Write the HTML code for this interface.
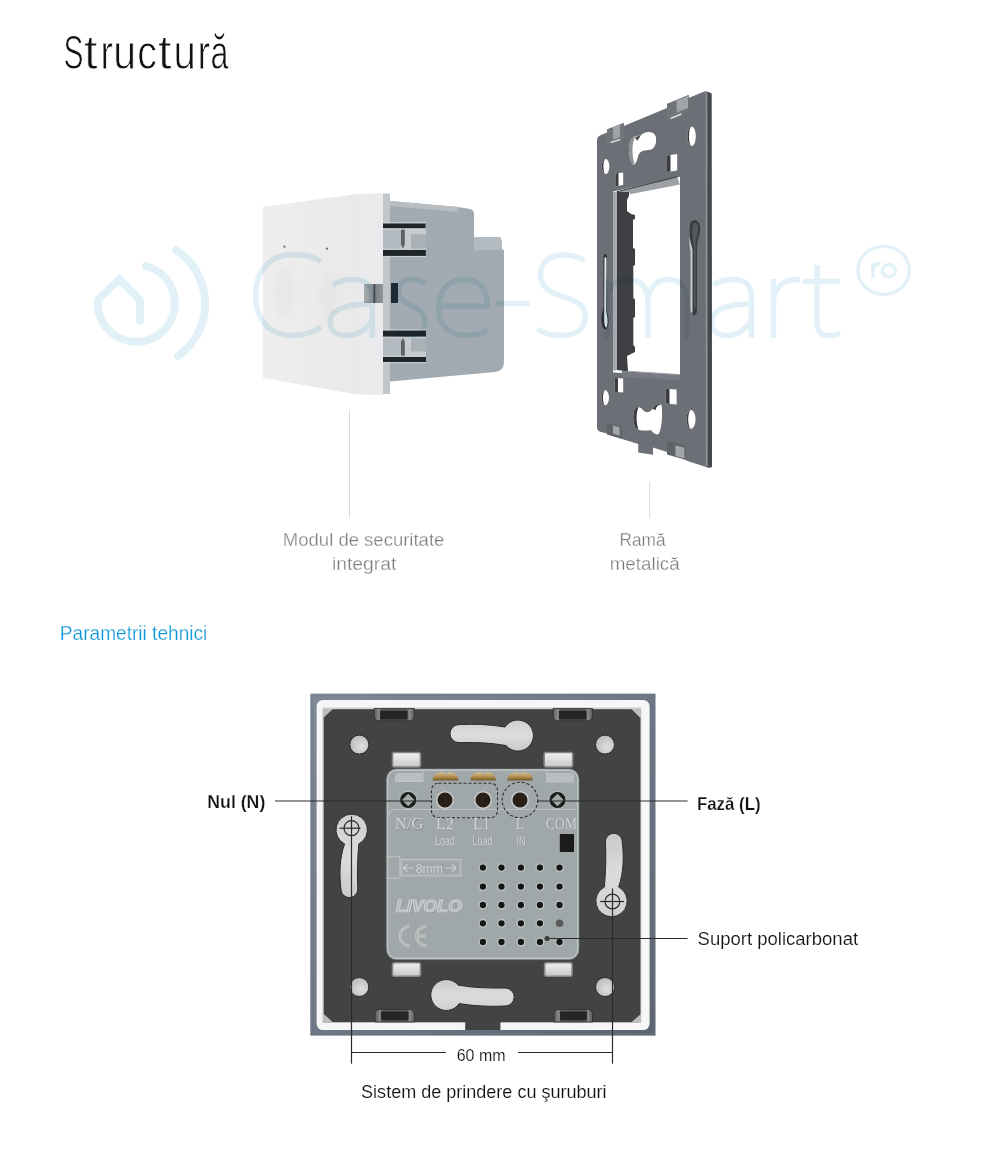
<!DOCTYPE html>
<html><head><meta charset="utf-8">
<style>
html,body{margin:0;padding:0;background:#fff;}
body{width:1000px;height:1172px;position:relative;overflow:hidden;font-family:"Liberation Sans",sans-serif;}
svg{position:absolute;left:0;top:0;}
#wm{mix-blend-mode:multiply;}
</style></head><body>

<!-- base graphics layer -->
<svg id="g1" width="1000" height="1172" viewBox="0 0 1000 1172">
  <defs>
    <linearGradient id="frontG" x1="0" y1="0" x2="1" y2="0">
      <stop offset="0" stop-color="#eeeeee"/><stop offset="1" stop-color="#e9e9e9"/>
    </linearGradient>
    <filter id="soft" x="-50%" y="-50%" width="200%" height="200%"><feGaussianBlur stdDeviation="3"/></filter>
    <linearGradient id="blkG" x1="0" y1="0" x2="1" y2="0">
      <stop offset="0" stop-color="#a3a9ad"/><stop offset="0.45" stop-color="#8e9498"/><stop offset="0.55" stop-color="#3f4449"/><stop offset="0.62" stop-color="#7d8388"/><stop offset="1" stop-color="#8f9599"/>
    </linearGradient>
    <linearGradient id="bodyG" x1="0" y1="0" x2="1" y2="0">
      <stop offset="0" stop-color="#a2abb2"/><stop offset="1" stop-color="#a1aab1"/>
    </linearGradient>
  </defs>
  <!-- title -->
  <g font-size="46.5" fill="#111" stroke="#fff" stroke-width="0.9" style="paint-order:fill stroke" transform="translate(0,68.9) scale(1,1.05) translate(0,-68.2)">
<text transform="translate(63.55,68.2) scale(0.645,1)">S</text>
<text transform="translate(84.01,68.2) scale(1.052,1)">t</text>
<text transform="translate(100.40,68.2) scale(0.800,1)">r</text>
<text transform="translate(113.15,68.2) scale(0.882,1)">u</text>
<text transform="translate(137.31,68.2) scale(0.846,1)">c</text>
<text transform="translate(158.11,68.2) scale(1.052,1)">t</text>
<text transform="translate(173.62,68.2) scale(0.862,1)">u</text>
<text transform="translate(197.45,68.2) scale(0.817,1)">r</text>
<text transform="translate(210.51,68.2) scale(0.694,1)">ă</text>
</g>

  <!-- ===== MODULE (top) ===== -->
  <!-- grey body -->
  <path d="M390,201 L458,207 L470,209 Q474,210 474,214 L474,237 L499,237 Q501,237 501.5,241 L502,249.5 L504,250 L504,362 Q504,371 495,372 L390,381.5 Z" fill="url(#bodyG)"/>
  <path d="M474,237 L499,237 Q501,237 501.5,241 L502,249.5 L474,250.5 Z" fill="#b3bbc1"/>
  <path d="M390,201 L458,207 L458,212 L390,206 Z" fill="#b8bdc1"/>
  <rect x="383" y="193.5" width="7" height="200.5" fill="#c0c6ca"/>
  <!-- slots -->
  <rect x="383" y="223.5" width="42.5" height="5" fill="#1e262c"/>
  <rect x="383" y="249.7" width="42.8" height="6.2" fill="#1e262c"/>
  <rect x="383" y="330.5" width="43" height="6" fill="#1e262c"/>
  <rect x="383" y="356.7" width="43" height="5.3" fill="#1e262c"/>
  <rect x="383" y="228.5" width="43" height="21.2" fill="#c4cacd"/>
  <rect x="411" y="234.3" width="15" height="15.4" fill="#a9b1b7"/>
  <rect x="383" y="228.5" width="18" height="21.2" fill="#b2babf"/>
  <path d="M401,229 L404.8,229 L404.8,244 L403,249 L401,244 Z" fill="#5d6166"/>
  <path d="M383,222.6 L426,222.6 M383,229.2 L426,229.2 M383,249.1 L426,249.1 M383,256.6 L426,256.6" stroke="#d2d7da" stroke-width="0.9"/>
  <rect x="383" y="337" width="43" height="19.7" fill="#c4cacd"/>
  <rect x="411" y="337" width="15" height="14.5" fill="#a9b1b7"/>
  <rect x="383" y="337" width="18" height="19.7" fill="#b2babf"/>
  <path d="M401,356.2 L404.8,356.2 L404.8,342 L403,337.5 L401,342 Z" fill="#5d6166"/>
  <path d="M383,329.8 L426,329.8 M383,337.6 L426,337.6 M383,356.1 L426,356.1 M383,362.7 L426,362.7" stroke="#d2d7da" stroke-width="0.9"/>
  <rect x="391" y="283" width="7" height="20" fill="#1c2a33"/>
  <!-- side strip -->
  <path d="M357,194 L381,193.3 Q383,193.3 383,195.5 L383,395 L357,394.5 Z" fill="#eaeaec"/>
  <!-- front face -->
  <path d="M262.7,207 L357,194 L357,394.5 L262.7,378 Z" fill="url(#frontG)"/>
  <g filter="url(#soft)" fill="#dedee0" opacity="0.35">
    <ellipse cx="284" cy="293" rx="10.5" ry="26"/>
    <ellipse cx="328.5" cy="295" rx="9" ry="24"/>
  </g>
  <rect x="364" y="284" width="19" height="19" fill="url(#blkG)"/>
  <circle cx="284.4" cy="246.7" r="1.1" fill="#6a6a6a"/>
  <circle cx="327" cy="248.7" r="1.1" fill="#6a6a6a"/>

  <!-- label lines -->
  <rect x="349" y="409.5" width="1" height="108" fill="#d9d9d9"/>
  <rect x="649.2" y="482.6" width="1" height="35" fill="#d9d9d9"/>
</svg>

<!-- frame layer -->
<svg id="g2" width="1000" height="1172" viewBox="0 0 1000 1172">
  <!-- outer plate -->
  <path d="M597,140 Q597,136.5 601,135 L607,132.5 L607,129.5 L623.8,123 L623.8,126 L667,108 L667,104 L688.6,95 L688.6,98 L703,92 Q706,90.5 708,92 L711.5,93.5 L712,466 Q711.5,469 707.5,467.5 L686,460.5 L686,456 L667,450 L667,452 L653,447.6 L653,454.8 L638.2,452.4 L638.2,444 L622,439 L622,435.6 L607,431 L607,433.5 L601,432 Q597,431 597,427 Z" fill="#6c6f76"/>
  <path d="M706.5,91.5 L711.5,93.5 L712,467 L707.5,466.5 Z" fill="#46484c"/>
  <path d="M705.6,92 L707.4,91.6 L707.6,466 L705.8,465.5 Z" fill="#8e9196"/>
  <!-- tabs top -->
  <path d="M607,129.5 L623.8,123 L623.8,139 L607,145 Z" fill="#717479"/>
  <path d="M613,127 L620,124.5 L620,137 L613,139.5 Z" fill="#a0a3a8"/>
  <path d="M610.6,142.5 L620.2,139.5" stroke="#d8dadc" stroke-width="1.6"/>
  <path d="M667,104 L688.6,95 L688.6,111 L667,119.5 Z" fill="#717479"/>
  <path d="M676.6,100.5 L688,96 L688,108 L676.6,112.5 Z" fill="#a0a3a8"/>
  <path d="M670.6,118.5 L681.4,114" stroke="#d8dadc" stroke-width="1.6"/>
  <!-- tabs bottom -->
  <path d="M607,422.4 L622,426.5 L622,439 L607,434.5 Z" fill="#5f6267"/>
  <path d="M613,425.4 L619.6,427.2 L619.6,435.5 L613,433.8 Z" fill="#a2a5a9"/>
  <path d="M667,440.4 L685.6,445.5 L686,460 L667,454.5 Z" fill="#5f6267"/>
  <path d="M675.4,445.2 L684.4,447.8 L684.4,458.5 L675.4,456 Z" fill="#a2a5a9"/>
  <!-- window -->
  <path d="M613,191.5 L680,176.8 L680,376 L613,372.5 Z" fill="#fff"/>
  <path d="M613,192 L617,191.5 L617,369.5 C616,371 614,371 613,370 Z" fill="#a6a9ae"/>
  <path d="M617,191.5 L629,192 L629,196 L627,200 L627,211 L631,214 L635,215 L635,219 L633,220 L633,248 L635,249 L635,265 L633.3,266 L633.3,298 L635,299.5 L635,317 L633.3,318 L633.3,345 L635,347 L635,352 L631,354 L627,356 L628,371.5 L617,370 Z" fill="#3d3f43"/>
  <path d="M617,191.5 L677,176.6 L679.8,184.4 L630,194.2 L629,192 Z" fill="#9da0a5"/>
  <path d="M617,191.8 L677.5,176.8" stroke="#3a3c40" stroke-width="1.1"/>
  <path d="M628,371.3 L680,374.6 L680,380.5 L622,377.2 L622,371 Z" fill="#777a80"/>
  <path d="M628,371.3 L680,374.6" stroke="#a0a3a8" stroke-width="1"/>
  <!-- holes -->
  <g fill="#fff">
    <path d="M633,165 C628.5,158 627.5,146 631.5,139 C634,135.5 638,136.5 641,135 C645.5,131 653.5,130.5 655.8,136.5 C657,142.5 655,149 650,149.8 C645,150.3 640.5,150.5 638.5,155 C637,160 636.5,164 633,165 Z"/>
    <path d="M661.6,405 C662.5,412 662.5,426 659,433.5 C656.5,436 653,433 651,430 C646,431 640,431 636,428.5 C632.5,424 632.5,413 635,409 C637.5,406 641,407 643,410 C646,413.5 650,412.5 652.5,409 C655,405 658.5,402 661.6,405 Z"/>
    <ellipse cx="691.6" cy="136.3" rx="4.2" ry="9.9"/>
    <ellipse cx="605.6" cy="166.6" rx="3.8" ry="7.6"/>
    <ellipse cx="605.2" cy="397.8" rx="3.8" ry="7.5"/>
    <ellipse cx="691" cy="419.4" rx="4.5" ry="9.5"/>
    <path d="M615.4,173.6 L623.2,172.4 L623.2,185 L615.4,186.2 Z"/>
    <path d="M667,155.6 L677.2,154 L677.2,170.4 L667,172 Z"/>
    <path d="M614.8,378 L623.2,378.6 L623.2,392.4 L614.8,391.8 Z"/>
    <path d="M665.8,388.8 L676.6,389.6 L676.6,404.4 L665.8,403.6 Z"/>
  </g>
  <!-- hole depth shading -->
  <g fill="#3a3c40">
    <path d="M615.4,173.6 L618.5,173.1 L618.5,185.7 L615.4,186.2 Z"/>
    <path d="M667,155.6 L670.5,155.1 L670.5,171.5 L667,172 Z"/>
    <path d="M614.8,378 L618,378.2 L618,392 L614.8,391.8 Z"/>
    <path d="M665.8,388.8 L669.5,389 L669.5,404 L665.8,403.6 Z"/>
    <path d="M687.4,136.3 A4.2,9.9 0 0 1 691.6,126.4 A2.6,9.9 0 0 0 691.6,146.2 A4.2,9.9 0 0 1 687.4,136.3 Z"/>
    <path d="M601.8,166.6 A3.8,7.6 0 0 1 605.6,159 A2.2,7.6 0 0 0 605.6,174.2 A3.8,7.6 0 0 1 601.8,166.6 Z"/>
    <path d="M601.4,397.8 A3.8,7.5 0 0 1 605.2,390.3 A2.2,7.5 0 0 0 605.2,405.3 A3.8,7.5 0 0 1 601.4,397.8 Z"/>
    <path d="M686.5,419.4 A4.5,9.5 0 0 1 691,409.9 A2.8,9.5 0 0 0 691,428.9 A4.5,9.5 0 0 1 686.5,419.4 Z"/>
  </g>
  <!-- keyhole rims -->
  <path d="M633,165 C628.5,158 627.5,146 631.5,139 C632.5,137.5 634,137 635,137 C632,143 631.5,155 634.5,163.5 Z" fill="#8c8f94"/>
  <path d="M635,137 C637,136.5 639,136 641,135 C640,137 638.5,139 637,141 Z" fill="#4a4c50"/>
  <path d="M636,428.5 C632.5,424 632.5,413 635,409 C636,407.5 637.5,407 638.5,407.5 C636,412 636,423 638.5,429.5 Z" fill="#3c3e42"/>
  <path d="M652.5,409 C655,405 658.5,402 661.6,405 C659,404 656.5,406 655.5,410 Z" fill="#3c3e42"/>
  <!-- side slots -->
  <path d="M603.5,256 C605,253 607,253 607,258 L607,312 C609,318 609,326 606.5,329 C604,330 602,327 601.5,321 C601,315 603,311 603.5,306 Z" fill="#2a2c30"/>
  <path d="M604.5,258 C605.5,256 606.5,257 606.5,260 L606.2,312 C608,318 608,325 606.5,327.5 C605,328 604.2,324 604.2,318 Z" fill="#e9ecee"/>
  <path d="M690,225 C690,219 699,218 700,226 C701,235 697,240 697,246 L697,310 C697,316 693,318 692,312 L692,250 C690,244 689,235 690,225 Z" fill="#3a3c41"/>
  <path d="M692.5,226 C693,222 697.5,222 698,227 C698.5,233 696,238 695.5,244 L695.5,308 L694,308 L694,246 C692.5,240 692,232 692.5,226 Z" fill="#55585d"/>
  <path d="M689.5,236 C689.5,240 691.5,244 692.5,250 L692.5,312 C691,314 690.5,312 690.5,308 L690.5,252 C689.5,246 689,240 689.5,236 Z" fill="#c8cbce"/>
</svg>
<!-- watermark (multiply) -->
<svg id="wm" width="1000" height="1172" viewBox="0 0 1000 1172">
  <g fill="none" stroke="#e2f1f7" stroke-width="8" stroke-linecap="round" stroke-linejoin="round">
    <path d="M140,321 L140,300 L119.4,279 L98,300 A38.5,38.5 0 1 0 146,266"/>
    <path d="M176,250 A64,64 0 0 1 178,356"/>
  </g>
  <g fill="none" stroke="#e2f1f7">
  <ellipse cx="883.6" cy="270.3" rx="25.7" ry="24" stroke-width="3.3"/>
  <ellipse cx="888.8" cy="270.7" rx="6.5" ry="6" stroke-width="3.4"/>
  <path d="M873,263 L873,277.7 M873,268.5 C874,265.5 876.5,263.6 880.5,263.6" stroke-width="3.6"/>
</g>
  
  <g fill="none" stroke="#e2f1f7" stroke-width="5.4" stroke-linecap="butt">
<path d="M321,261.5 C313,256 303,254.5 293,254.5 C268,254.5 255.5,273 255.5,295.5 C255.5,319 269,335.5 292,335.5 C304,335.5 313,332.5 321,327"/>
<path d="M372.5,338 L372.5,298 C372.5,284 365,279.5 353,279.5 C345,279.5 338,281.5 333,285"/>
<path d="M372.5,304 C356,304 330,305.5 330,322 C330,331 337,335.5 347,335.5 C358,335.5 367,329 372.5,320"/>
<path d="M425.5,283.5 C420,280.5 415,279.5 411,279.5 C403,279.5 398.5,284 398.5,291 C398.5,308 425,303 425,322 C425,331 419,335.5 410,335.5 C405,335.5 400,334 396.5,331.5"/>
<path d="M438.5,306 L487.5,306 C488,290 480,279.5 464,279.5 C448,279.5 438.5,292 438.5,308 C438.5,325 449,335.5 466,335.5 C475,335.5 482,333.5 487.5,330"/>
<path d="M496,303.5 L530,303.5"/>
<path d="M584.5,260.5 C578,256.5 571,255 563,255 C549,255 540.5,263 540.5,275 C540.5,302 585.5,292 585.5,316 C585.5,329 576,335.5 561,335.5 C551,335.5 543,333 537.5,329"/>
<path d="M607,279 L607,338 M607,295 C610,285 617,279.5 627,279.5 C641,279.5 648,287 648,302 L648,338 M648,298 C651,286 658,279.5 668,279.5 C682,279.5 687,288 687,303 L687,338"/>
<path d="M751.5,338 L751.5,298 C751.5,284 745,279.5 733,279.5 C725,279.5 718,281.5 713.5,285"/>
<path d="M751.5,304 C737,304 711.5,305.5 711.5,322 C711.5,331 718,335.5 727,335.5 C738,335.5 746,329 751.5,320"/>
<path d="M773.5,279 L773.5,338 M773.5,297 C777,286 785,279.5 795,279.5 L800,280"/>
<path d="M817,265 L817,322 C817,332 821,335.5 829,335.5 C833,335.5 836.5,334.5 840,333.5 M803,281.5 L840,281.5"/>
</g>
</svg>

<!-- text labels -->
<svg id="g3" width="1000" height="1172" viewBox="0 0 1000 1172" font-family="Liberation Sans, sans-serif">
  <g fill="#7a7a7a" font-size="18" text-anchor="middle" stroke="#fff" stroke-width="0.3" style="paint-order:fill stroke">
    <text x="363.6" y="546.3" textLength="161.5" lengthAdjust="spacingAndGlyphs">Modul de securitate</text>
    <text x="364.2" y="569.6" textLength="64.5" lengthAdjust="spacingAndGlyphs">integrat</text>
    <text x="642.5" y="545.7" textLength="46" lengthAdjust="spacingAndGlyphs">Ramă</text>
    <text x="644.7" y="569.5" textLength="70" lengthAdjust="spacingAndGlyphs">metalică</text>
  </g>
  <text x="59.8" y="639.8" font-size="19.5" fill="#0a95d9" stroke="#fff" stroke-width="0.25" style="paint-order:fill stroke" textLength="147.5" lengthAdjust="spacingAndGlyphs">Parametrii tehnici</text>
</svg>

<!-- ===== BOTTOM SWITCH ===== -->
<svg id="g4" width="1000" height="1172" viewBox="0 0 1000 1172">
  <defs>
    <linearGradient id="outerG" x1="0" y1="0" x2="1" y2="1">
      <stop offset="0" stop-color="#7e8998"/><stop offset="1" stop-color="#5d6573"/>
    </linearGradient>
    <radialGradient id="holeG" cx="0.6" cy="0.6" r="0.6">
      <stop offset="0" stop-color="#dedede"/><stop offset="1" stop-color="#bdbdbd"/>
    </radialGradient>
    <linearGradient id="ovalG" x1="0" y1="0" x2="0" y2="1">
      <stop offset="0" stop-color="#cfcfcf"/><stop offset="0.5" stop-color="#dcdcdc"/><stop offset="1" stop-color="#c9c9c9"/>
    </linearGradient>
    <linearGradient id="screwG" x1="0" y1="0" x2="0" y2="1">
      <stop offset="0" stop-color="#d8c08a"/><stop offset="0.6" stop-color="#a8874a"/><stop offset="1" stop-color="#6e5428"/>
    </linearGradient>
    <linearGradient id="slotG" x1="0" y1="0" x2="1" y2="0">
      <stop offset="0" stop-color="#5a5a5a"/><stop offset="0.12" stop-color="#8a8a8a"/><stop offset="0.2" stop-color="#5e5e5e"/><stop offset="0.8" stop-color="#5e5e5e"/><stop offset="0.88" stop-color="#8a8a8a"/><stop offset="1" stop-color="#5a5a5a"/>
    </linearGradient>
    <linearGradient id="clipG" x1="0" y1="0" x2="0" y2="1">
      <stop offset="0" stop-color="#f2f2f2"/><stop offset="1" stop-color="#c8c8c8"/>
    </linearGradient>
      <g id="emb">
  <g font-family="Liberation Serif, serif" font-size="17.5">
    <text x="395" y="828.8" textLength="28.5" lengthAdjust="spacingAndGlyphs">N/G</text>
    <text x="436" y="828.5" textLength="18" lengthAdjust="spacingAndGlyphs">L2</text>
    <text x="473" y="828.5" textLength="17.5" lengthAdjust="spacingAndGlyphs">L1</text>
    <text x="515.5" y="828.5" textLength="9" lengthAdjust="spacingAndGlyphs">L</text>
    <text x="546" y="828.5" textLength="31" lengthAdjust="spacingAndGlyphs">COM</text>
  </g>
  <g font-family="Liberation Sans, sans-serif" font-size="12">
    <text x="435" y="844.5" textLength="20" lengthAdjust="spacingAndGlyphs">Load</text>
    <text x="472.5" y="844.5" textLength="20" lengthAdjust="spacingAndGlyphs">Load</text>
    <text x="516.5" y="844.5" textLength="9" lengthAdjust="spacingAndGlyphs">IN</text>
  </g>
  </g>
    <path id="oval" d="M459,724.6 C475,723.8 490,724.5 505,727 A15.5,15.5 0 1 1 506,745.5 C490,742.6 475,742.4 459,742.6 A9,9 0 0 1 459,724.6 Z"/>
    <path id="key" d="M351.7,814.2 A15.7,15.7 0 0 1 358.8,843.9 C357.5,858 357,875 357.8,889 A8.4,8.4 0 0 1 341.2,891 C339,875 339.5,858 344.6,843.9 A15.7,15.7 0 0 1 351.7,814.2 Z"/>
  </defs>
  <!-- outer frame -->
  <rect x="310.3" y="693.6" width="345.2" height="342" fill="url(#outerG)"/>
  <rect x="312" y="695.3" width="341.8" height="338.6" fill="none" stroke="#6c7684" stroke-width="1" opacity="0.6"/>
  <rect x="316.6" y="700" width="333" height="330" rx="6.4" fill="#f6f6f6"/>
  <rect x="322.6" y="707.6" width="318.6" height="315.4" fill="#bdbdbd"/>
  <path d="M322.6,708 L641.2,708" stroke="#e2e2e2" stroke-width="1"/>
  <!-- dark plate -->
  <path d="M332.6,709.2 L631.6,709.2 L640.4,718 L640.4,1014.4 L631.7,1022 L500.4,1022 L500.4,1030 L465.2,1030 L465.2,1022 L332.6,1022 L323.8,1014 L323.8,717.5 Z" fill="#434343"/>
  <!-- slots -->
  <g fill="url(#slotG)" stroke="#2c2c2c" stroke-width="0.8">
    <path d="M374.1,708.5 L414.4,708.5 L414.4,715.8 Q414.4,720.8 409.4,720.8 L379.1,720.8 Q374.1,720.8 374.1,715.8 Z"/>
    <path d="M553.0,708.5 L592.5,708.5 L592.5,715.8 Q592.5,720.8 587.5,720.8 L558.0,720.8 Q553.0,720.8 553.0,715.8 Z"/>
    <path d="M375.0,1022.0 L414.5,1022.0 L414.5,1014.5 Q414.5,1009.5 409.5,1009.5 L380.0,1009.5 Q375.0,1009.5 375.0,1014.5 Z"/>
    <path d="M554.0,1022.0 L592.5,1022.0 L592.5,1014.5 Q592.5,1009.5 587.5,1009.5 L559.0,1009.5 Q554.0,1009.5 554.0,1014.5 Z"/>
  </g>
  <g fill="#272424">
    <rect x="380" y="710.7" width="27.6" height="8.8"/>
    <rect x="559" y="710.7" width="27.6" height="8.8"/>
    <rect x="381" y="1011.5" width="27.5" height="8.8"/>
    <rect x="560" y="1011.5" width="27" height="8.8"/>
  </g>
  <!-- round holes -->
  <g fill="url(#holeG)" stroke="#2c2c2c" stroke-width="1">
    <circle cx="359.3" cy="744.6" r="9.5"/>
    <circle cx="605" cy="744.6" r="9.5"/>
    <circle cx="359.3" cy="987" r="9.5"/>
    <circle cx="605" cy="987" r="9.5"/>
  </g>
  <!-- ovals -->
  <g fill="url(#ovalG)" stroke="#2c2c2c" stroke-width="1">
    <use href="#oval"/>
    <use href="#oval" transform="rotate(180 482.1 865.3)"/>
    <use href="#key"/>
    <use href="#key" transform="rotate(180 481.6 865.45)"/>
  </g>
  <!-- clips -->
  <g fill="url(#clipG)" stroke="#858585" stroke-width="1.6">
    <rect x="392.5" y="752.5" width="28" height="14.5" rx="2"/>
    <rect x="544.2" y="752.5" width="28.5" height="14.5" rx="2"/>
    <rect x="392.5" y="962.7" width="28" height="13.5" rx="2"/>
    <rect x="544.6" y="962.7" width="27.5" height="13.5" rx="2"/>
  </g>
  <!-- module -->
  <rect x="385.8" y="768.3" width="193.8" height="192" rx="10.5" fill="#5a5e60"/>
  <rect x="386.5" y="769" width="192.4" height="190.5" rx="10" fill="#a0a7a9"/>
  <rect x="387.6" y="770.1" width="190.2" height="188.3" rx="9" fill="none" stroke="#c2c7c8" stroke-width="1.1"/>
  <path d="M389,816 Q389,809.5 395,809.5 L576,809.5" fill="none" stroke="#bdc2c3" stroke-width="1.1"/>
  <path d="M395,781 L395,776 Q395,773 398,773 L422,773 L422,782 Z" fill="#b9bec0"/>
  <path d="M395,781.5 L423,781.5 L423,771" fill="none" stroke="#c6cbcc" stroke-width="0.9"/>
  <path d="M547,782 L547,773 L571,773 Q574,773 574,776 L574,781 Z" fill="#b9bec0"/>
  <path d="M546.5,771 L546.5,782 L574,782" fill="none" stroke="#c6cbcc" stroke-width="0.9"/>
  <!-- screws -->
  <g fill="url(#screwG)">
    <path d="M432.6,780.6 Q433.1,773.2 440.6,772.6 L443.6,772.6 L445.6,775.2 L447.6,772.6 L450.6,772.6 Q458.1,773.2 458.6,780.6 Z"/>
    <path d="M470.2,780.6 Q470.7,773.2 478.2,772.6 L481.2,772.6 L483.2,775.2 L485.2,772.6 L488.2,772.6 Q495.7,773.2 496.2,780.6 Z"/>
    <path d="M507.0,780.6 Q507.5,773.2 515.0,772.6 L518.0,772.6 L520.0,775.2 L522.0,772.6 L525.0,772.6 Q532.5,773.2 533.0,780.6 Z"/>
  </g>
  <!-- terminal holes -->
  <g fill="#2a1f16" stroke="#c6c8c9" stroke-width="1.6">
    <circle cx="445" cy="800" r="8.3"/>
    <circle cx="483" cy="800" r="8.3"/>
    <circle cx="520" cy="800" r="8.3"/>
  </g>
  <!-- screw heads N/G, COM -->
  <g>
    <circle cx="408.2" cy="800" r="8.6" fill="#1e1e1e" stroke="#c3c8c9" stroke-width="0.9"/>
    <circle cx="557.5" cy="800" r="8.6" fill="#1e1e1e" stroke="#c3c8c9" stroke-width="0.9"/>
    <path d="M408.2,793.8 L414.4,800 L408.2,806.2 L402,800 Z M557.5,793.8 L563.7,800 L557.5,806.2 L551.3,800 Z" fill="#a2a9ab"/>
  </g>
  <!-- dashed -->
  <rect x="431.5" y="783.2" width="66" height="34.6" rx="7" fill="none" stroke="#2e2e2e" stroke-width="1.1" stroke-dasharray="3 2"/>
  <circle cx="520" cy="800" r="17.8" fill="none" stroke="#2e2e2e" stroke-width="1.1" stroke-dasharray="3 2"/>
  <!-- embossed text -->
  <use href="#emb" fill="#858889" transform="translate(0.6,0.9)"/>
  <use href="#emb" fill="#d4d6d6"/>
  <rect x="559.8" y="834" width="14.2" height="18" fill="#1c1c1c"/>
  <!-- 8mm -->
  <g fill="none" stroke="#c3c5c6" stroke-width="1">
    <rect x="400.9" y="859.5" width="60" height="16.5"/>
    <rect x="402.4" y="861" width="57" height="13.5" stroke="#b8babb" stroke-width="0.7"/>
    <path d="M386.5,856.8 L399.9,856.8 L399.9,878.3 L386.5,878.3"/>
    <path d="M404,868 L413.5,868 M407.5,864.2 L403.5,868 L407.5,871.8 M445.5,868 L456,868 M452,864.2 L456,868 L452,871.8" stroke="#cfd1d1" stroke-width="1.1"/>
  </g>
  <text x="415.8" y="872.8" font-size="13" fill="#d0d2d2" textLength="27" lengthAdjust="spacingAndGlyphs">8mm</text>
  <text x="396.6" y="913" font-style="italic" font-weight="bold" font-size="15.8" fill="#7e8486" textLength="66" lengthAdjust="spacingAndGlyphs">LIVOLO</text>
  <text x="396" y="912.2" font-style="italic" font-weight="bold" font-size="15.8" fill="#a9aeb0" stroke="#d0d3d3" stroke-width="1.1" textLength="66" lengthAdjust="spacingAndGlyphs">LIVOLO</text>
  <g fill="none" stroke-linecap="round">
    <path d="M408.4,926.3 A9.8,9.8 0 0 0 408.4,945.7 M424.9,926.3 A9.8,9.8 0 0 0 424.9,945.7 M416,936 L424,936" stroke="#c9cbcb" stroke-width="2.8"/>
    <path d="M408.4,926.3 A9.8,9.8 0 0 0 408.4,945.7 M424.9,926.3 A9.8,9.8 0 0 0 424.9,945.7 M416,936 L424,936" stroke="#9ea0a1" stroke-width="0.7"/>
  </g>
  <!-- dots -->
  <g fill="#151515" stroke="#c0c5c6" stroke-width="1.3">
    <circle cx="482.9" cy="867.6" r="3.8"/><circle cx="501.5" cy="867.6" r="3.8"/><circle cx="520.9" cy="867.6" r="3.8"/><circle cx="539.9" cy="867.6" r="3.8"/><circle cx="559.5" cy="867.6" r="3.8"/><circle cx="482.9" cy="886.6" r="3.8"/><circle cx="501.5" cy="886.6" r="3.8"/><circle cx="520.9" cy="886.6" r="3.8"/><circle cx="539.9" cy="886.6" r="3.8"/><circle cx="559.5" cy="886.6" r="3.8"/><circle cx="482.9" cy="905.0" r="3.8"/><circle cx="501.5" cy="905.0" r="3.8"/><circle cx="520.9" cy="905.0" r="3.8"/><circle cx="539.9" cy="905.0" r="3.8"/><circle cx="559.5" cy="905.0" r="3.8"/><circle cx="482.9" cy="923.3" r="3.8"/><circle cx="501.5" cy="923.3" r="3.8"/><circle cx="520.9" cy="923.3" r="3.8"/><circle cx="539.9" cy="923.3" r="3.8"/><circle cx="482.9" cy="942.0" r="3.8"/><circle cx="501.5" cy="942.0" r="3.8"/><circle cx="520.9" cy="942.0" r="3.8"/><circle cx="539.9" cy="942.0" r="3.8"/><circle cx="559.5" cy="942.0" r="3.8"/></g><circle cx="559.5" cy="923.3" r="3.8" fill="#5a5a5a"/><g>
  </g>
    <!-- callout lines -->
  <g stroke="#2a2a2a" stroke-width="1.2" fill="none">
    <path d="M275,801 L431.5,801"/>
    <path d="M537.8,801 L687.6,801"/>
    <path d="M549,938.5 L687.6,938.5"/>
    <path d="M351.5,816.3 L351.5,1063.7"/>
    <path d="M612.5,888.5 L612.5,1063.7"/>
    <path d="M351.5,1052.5 L446,1052.5 M518,1052.5 L612.5,1052.5"/>
    <circle cx="351.5" cy="828.2" r="7.5"/>
    <path d="M339.5,828.2 L360.5,828.2"/>
    <circle cx="612.4" cy="901.5" r="7.4"/>
    <path d="M600.2,901.5 L624,901.5"/>
  </g>
  <circle cx="547" cy="938.4" r="2.5" fill="#3a3a3a"/>
</svg>
<svg id="g5" width="1000" height="1172" viewBox="0 0 1000 1172" font-family="Liberation Sans, sans-serif">
  <g font-weight="bold" fill="#111" font-size="19" stroke="#fff" stroke-width="0.25" style="paint-order:fill stroke">
    <text x="207.3" y="807.8" textLength="58" lengthAdjust="spacingAndGlyphs">Nul (N)</text>
    <text x="697" y="809.6" textLength="63.5" lengthAdjust="spacingAndGlyphs">Fază (L)</text>
  </g>
  <g fill="#111" stroke="#fff" stroke-width="0.15" style="paint-order:fill stroke">
    <text x="697.6" y="945.1" font-size="17.5" textLength="160.5" lengthAdjust="spacingAndGlyphs">Suport policarbonat</text>
    <text x="456.7" y="1061.3" font-size="16.8" textLength="48.8" lengthAdjust="spacingAndGlyphs">60 mm</text>
    <text x="361.1" y="1098.3" font-size="18.8" textLength="245.5" lengthAdjust="spacingAndGlyphs">Sistem de prindere cu şuruburi</text>
  </g>
</svg>
</body></html>
